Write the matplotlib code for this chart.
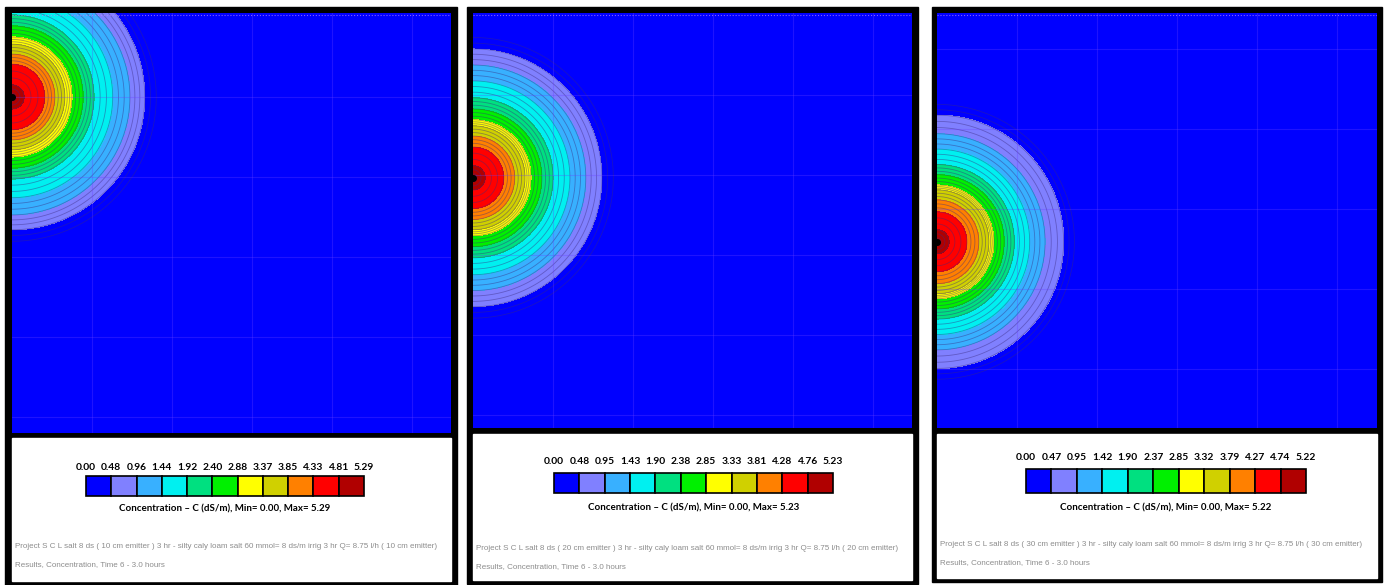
import numpy as np
import matplotlib.pyplot as plt
from matplotlib.patches import Rectangle

W, H = 1388, 585

# concentration classes shared by all three runs
band_colors = ['#0000ff', '#8080ff', '#38b0ff', '#00f0f0', '#00e080', '#00f000',
               '#ffff00', '#d0d000', '#ff8000', '#ff0000', '#b00000']

# class limits shown under each map (dS/m)
ticks_10 = [0.00, 0.48, 0.96, 1.44, 1.92, 2.40, 2.88, 3.37, 3.85, 4.33, 4.81, 5.29]
ticks_20 = [0.00, 0.48, 0.95, 1.43, 1.90, 2.38, 2.85, 3.33, 3.81, 4.28, 4.76, 5.23]
ticks_30 = [0.00, 0.47, 0.95, 1.42, 1.90, 2.37, 2.85, 3.32, 3.79, 4.27, 4.74, 5.22]

# distance from the emitter (cm) at which each class limit is reached
radii_10 = [37.5, 33.2, 29.5, 25.2, 20.5, 17.8, 15.0, 13.2, 10.7, 8.2, 3.0, 0.0]
radii_20 = [36.5, 32.2, 28.2, 24.2, 20.0, 17.2, 14.5, 13.0, 10.4, 7.7, 3.0, 0.0]
radii_30 = [35.7, 31.7, 27.0, 23.2, 19.3, 16.8, 14.2, 13.0, 10.5, 7.5, 3.0, 0.0]

# emitter depth (cm) on the left boundary
emitter_depth = [21.0, 41.2, 57.2]

project_txt = [
    'Project S C L salt 8 ds ( 10 cm emitter ) 3 hr - silty caly loam salt 60 mmol= 8 ds/m irrig 3 hr Q= 8.75 l/h ( 10 cm emitter)',
    'Project S C L salt 8 ds ( 20 cm emitter ) 3 hr - silty caly loam salt 60 mmol= 8 ds/m irrig 3 hr Q= 8.75 l/h ( 20 cm emitter)',
    'Project S C L salt 8 ds ( 30 cm emitter ) 3 hr - silty caly loam salt 60 mmol= 8 ds/m irrig 3 hr Q= 8.75 l/h ( 30 cm emitter)',
]
results_txt = 'Results, Concentration, Time 6 - 3.0 hours'

# panel layout in pixels: outer frame, map area, legend area, colour key
panels = [
    dict(outer=(5, 457, 7, 585), blue=(12, 451, 13, 433), legend=(12, 451, 438, 581),
         key=(86, 364, 476, 496), lab_y=467, title_y=509, txt_y=(547, 565), txt_x=15,
         ticks=ticks_10, radii=radii_10, grid_y0=21),
    dict(outer=(467, 918, 7, 584), blue=(473, 912, 13, 428), legend=(473, 912, 434, 580),
         key=(554, 833, 473, 493), lab_y=462, title_y=508, txt_y=(548, 567), txt_x=476,
         ticks=ticks_20, radii=radii_20, grid_y0=20.5),
    dict(outer=(932, 1382, 7, 582), blue=(937, 1377, 13, 428), legend=(937, 1377, 434, 578),
         key=(1026, 1306, 469, 493), lab_y=457, title_y=508, txt_y=(545, 563), txt_x=940,
         ticks=ticks_30, radii=radii_30, grid_y0=9),
]

PX_PER_CM = 4.0
gray_font = ['Liberation Sans', 'DejaVu Sans']

fig = plt.figure(figsize=(W / 100, H / 100), dpi=100)
bg = fig.add_axes([0, 0, 1, 1])
bg.set_xlim(0, W)
bg.set_ylim(H, 0)
bg.axis('off')

for i, p in enumerate(panels):
    x0, x1, y0, y1 = p['outer']
    bg.add_patch(Rectangle((x0, y0), x1 - x0, y1 - y0, color='black', zorder=1))
    lx0, lx1, ly0, ly1 = p['legend']
    bg.add_patch(Rectangle((lx0, ly0), lx1 - lx0, ly1 - ly0, color='white', zorder=2))

    # colour key
    kx0, kx1, ky0, ky1 = p['key']
    bw = (kx1 - kx0) / len(band_colors)
    for j, c in enumerate(band_colors):
        bg.add_patch(Rectangle((kx0 + j * bw, ky0), bw, ky1 - ky0, facecolor=c,
                               edgecolor='black', lw=1.2, zorder=3))
    for j, t in enumerate(p['ticks']):
        bg.text(kx0 + j * bw, p['lab_y'], '%.2f' % t, ha='center', va='center',
                fontsize=7.4, fontweight='bold', family='Lato', zorder=4)
    bg.text((kx0 + kx1) / 2, p['title_y'],
            'Concentration \u2013 C (dS/m), Min= 0.00, Max= %.2f' % p['ticks'][-1],
            ha='center', va='center', fontsize=7, fontweight='bold', family='Lato', zorder=4)
    bg.text(p['txt_x'], p['txt_y'][0], project_txt[i], ha='left', va='center',
            fontsize=5.8, color='#8c8c8c', family=gray_font, zorder=4)
    bg.text(p['txt_x'], p['txt_y'][1], results_txt, ha='left', va='center',
            fontsize=5.8, color='#8c8c8c', family=gray_font, zorder=4)

    # concentration map
    bx0, bx1, by0, by1 = p['blue']
    ax = fig.add_axes([bx0 / W, 1 - by1 / H, (bx1 - bx0) / W, (by1 - by0) / H])
    xmax = (bx1 - bx0) / PX_PER_CM
    ymax = (by1 - by0) / PX_PER_CM
    x = np.linspace(0, xmax, 500)
    y = np.linspace(0, ymax, 500)
    X, Y = np.meshgrid(x, y)
    R = np.hypot(X, Y - emitter_depth[i])
    ticks = np.array(p['ticks'])
    radii = np.array(p['radii'])
    Z = np.interp(R, radii[::-1], ticks[::-1], right=0.0)

    ax.set_facecolor('#0000ff')
    ax.contourf(X, Y, Z, levels=ticks, colors=band_colors)
    line_lv = np.arange(1, 34) * ticks[-1] / 33
    ax.contour(X, Y, Z, levels=line_lv, colors='#3a2a80', linewidths=0.6, alpha=0.45)

    # faint mesh lines
    for gx in np.arange(20, xmax, 20):
        ax.axvline(gx, color='#6a40ff', lw=0.8, alpha=0.3)
    for gy in np.arange(p['grid_y0'], ymax, 20):
        ax.axhline(gy, color='#6a40ff', lw=0.8, alpha=0.3)
    ax.axhline(0.5, color='#c080ff', lw=0.8, ls=':', alpha=0.7)

    ax.plot([0], [emitter_depth[i]], 'o', color='black', ms=4, clip_on=False)
    ax.set_xlim(0, xmax)
    ax.set_ylim(ymax, 0)
    ax.axis('off')

fig.savefig('out.png', dpi=100, facecolor='white')
